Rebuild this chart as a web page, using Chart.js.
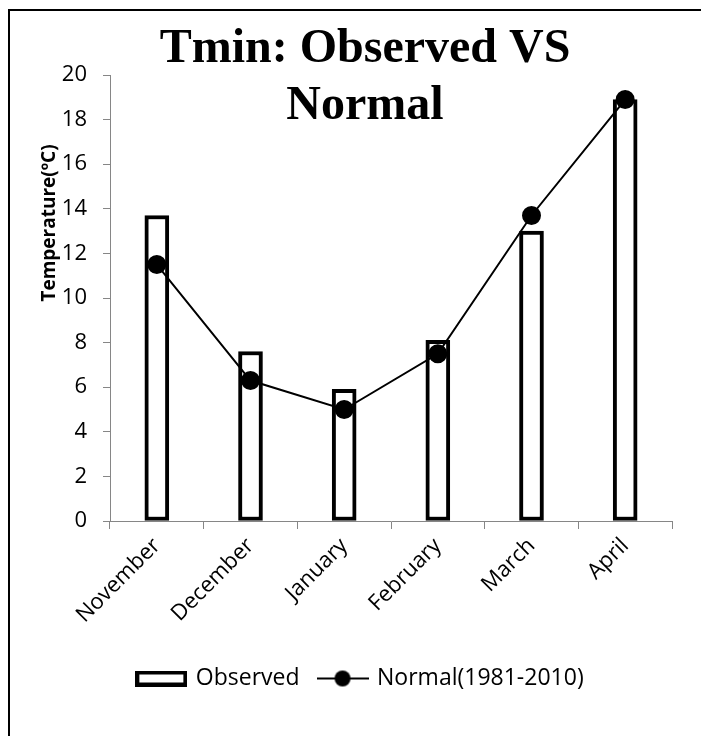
<!DOCTYPE html>
<html>
<head>
<meta charset="utf-8">
<script src="https://cdn.jsdelivr.net/npm/chart.js@4"></script>
<style>
  html, body { margin: 0; padding: 0; background: #fff; overflow: hidden; }
  #frame {
    position: absolute; left: 8px; top: 9px;
    width: 740px; height: 760px;
    border-top: 2px solid #000; border-left: 2px solid #000;
  }
  #myChart { position: absolute; left: 0; top: 0; }
</style>
</head>
<body>
<div id="frame"><canvas id="myChart" width="702" height="730"></canvas></div>
<script>
  const months = ['November', 'December', 'January', 'February', 'March', 'April'];
  const observed = [13.7, 7.6, 5.9, 8.1, 13.0, 18.9];
  const normal = [11.5, 6.3, 5.0, 7.5, 13.7, 18.9];
  const yTicks = [0, 2, 4, 6, 8, 10, 12, 14, 16, 18, 20];

  const axisGrey = '#868686';
  const sans = '"Open Sans", sans-serif';

  // little pictures for the legend
  const boxIcon = document.createElement('canvas');
  boxIcon.width = 52; boxIcon.height = 16;
  let c = boxIcon.getContext('2d');
  c.lineWidth = 4; c.strokeStyle = '#000';
  c.strokeRect(2, 2, 48, 12);

  const lineIcon = document.createElement('canvas');
  lineIcon.width = 52; lineIcon.height = 18;
  c = lineIcon.getContext('2d');
  c.strokeStyle = '#000'; c.lineWidth = 2;
  c.beginPath(); c.moveTo(0, 9); c.lineTo(52, 9); c.stroke();
  c.fillStyle = '#000';
  c.beginPath(); c.arc(26, 9, 8, 0, Math.PI * 2); c.fill();

  // title + y axis title, drawn where Excel put them
  const labelsPlugin = {
    id: 'labels',
    afterDraw(chart) {
      const ctx = chart.ctx;
      ctx.save();
      ctx.fillStyle = '#000';
      ctx.textAlign = 'center';
      ctx.textBaseline = 'middle';
      ctx.font = 'bold 48px "Liberation Serif", "Times New Roman", serif';
      ctx.fillText('Tmin: Observed VS', 355, 39);
      ctx.fillText('Normal', 355, 96);
      ctx.translate(40, 212);
      ctx.rotate(-Math.PI / 2);
      ctx.font = 'bold 19px ' + sans;
      ctx.fillText('Temperature(ºC)', 0, 0);
      ctx.restore();
    }
  };

  const data = {
    labels: months,
    datasets: [{
      type: 'bar',
      label: 'Observed',
      data: observed,
      backgroundColor: '#fff',
      borderColor: '#000',
      borderWidth: 4,
      borderSkipped: false,
      barThickness: 24,
      order: 2
    }, {
      type: 'line',
      label: 'Normal(1981-2010)',
      data: normal,
      borderColor: '#000',
      borderWidth: 2,
      backgroundColor: '#000',
      pointRadius: 8.5,
      pointHoverRadius: 8.5,
      tension: 0,
      order: 1
    }]
  };

  const config = {
    data,
    options: {
      responsive: false,
      animation: false,
      layout: { padding: { top: 64, left: 0, right: 0, bottom: 41 } },
      plugins: {
        tooltip: { enabled: false },
        legend: {
          position: 'bottom',
          labels: {
            usePointStyle: true,
            pointStyleWidth: 46,
            padding: 20,
            color: '#000',
            font: { family: sans, size: 23 },
            generateLabels: () => [
              { text: 'Observed', pointStyle: boxIcon, fontColor: '#000', datasetIndex: 0, hidden: false },
              { text: 'Normal(1981-2010)', pointStyle: lineIcon, fontColor: '#000', datasetIndex: 1, hidden: false }
            ]
          }
        }
      },
      scales: {
        x: {
          offset: true,
          grid: { offset: true, drawOnChartArea: false, color: axisGrey, tickLength: 8 },
          border: { color: axisGrey },
          ticks: { color: '#000', font: { family: sans, size: 22 }, minRotation: 45, maxRotation: 45, padding: 4 },
          afterFit: (s) => { s.height = 126; }
        },
        y: {
          min: 0,
          max: 20,
          afterBuildTicks: (s) => { s.ticks = yTicks.map(v => ({ value: v })); },
          grid: { drawOnChartArea: false, color: axisGrey, tickLength: 7 },
          border: { color: axisGrey },
          ticks: { color: '#000', font: { family: sans, size: 22 }, padding: 16 },
          afterFit: (s) => { s.width = 100; }
        },
        spacer: {
          position: 'right',
          display: true,
          grid: { display: false },
          border: { display: false },
          ticks: { display: false },
          afterFit: (s) => { s.width = 40; }
        }
      }
    },
    plugins: [labelsPlugin]
  };

  const myChart = new Chart(document.getElementById('myChart'), config);
</script>
</body>
</html>
